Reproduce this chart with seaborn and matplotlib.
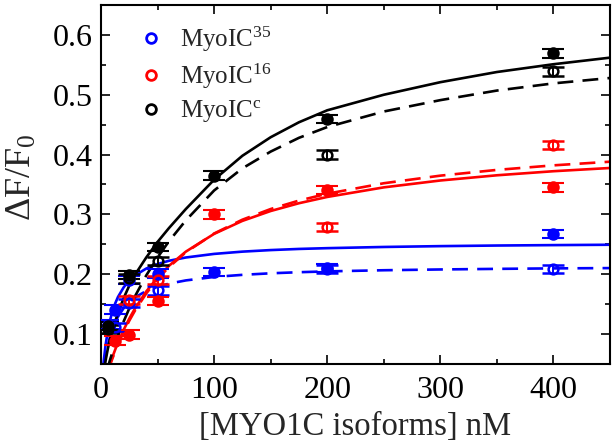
import numpy as np
import pandas as pd
import matplotlib
matplotlib.use("Agg")
import matplotlib.pyplot as plt
from matplotlib.lines import Line2D
from matplotlib.ticker import MultipleLocator
from matplotlib import font_manager
import seaborn as sns

nan = np.nan

# ---------------- data ----------------
conc = [6.25, 12.5, 25, 50, 100, 200, 400]

myo35_filled = [0.116, 0.141, 0.190, 0.201, 0.204, 0.210, 0.267]
myo35_open = [nan, 0.112, 0.152, 0.173, nan, 0.209, 0.209]
myo16_filled = [nan, 0.089, 0.099, 0.155, 0.300, 0.341, 0.345]
myo16_open = [nan, nan, 0.157, 0.190, nan, 0.279, 0.416]
myoc_filled = [0.113, nan, 0.199, 0.246, 0.365, 0.459, 0.569]
myoc_open = [0.108, nan, 0.193, 0.222, nan, 0.400, 0.539]
err = [0.007, 0.007, 0.007, 0.007, 0.007, 0.007, 0.007]

# fitted curves
fit_x = [0, 2, 4, 6, 8, 10, 12.5, 15, 20, 25, 30, 40, 50, 60, 75, 100,
         125, 150, 175, 200, 250, 300, 350, 400, 450]
fit35_solid = [0.0, 0.048, 0.081, 0.105, 0.123, 0.137, 0.151, 0.162, 0.178,
               0.190, 0.198, 0.2095, 0.217, 0.2225, 0.228, 0.234, 0.2378,
               0.2404, 0.2423, 0.2436, 0.2456, 0.247, 0.248, 0.2487, 0.2493]
fit35_dash = [0.0, 0.036, 0.0614, 0.0806, 0.0956, 0.1075, 0.1194, 0.129,
              0.1433, 0.1536, 0.1613, 0.172, 0.179, 0.1843, 0.1897, 0.1955,
              0.199, 0.2016, 0.2034, 0.2048, 0.2067, 0.208, 0.209, 0.2098, 0.2103]
fit16_solid = [0.0, 0.0138, 0.0268, 0.0389, 0.0504, 0.0611, 0.0738, 0.0856,
               0.107, 0.1259, 0.1427, 0.1712, 0.1945, 0.214, 0.2378, 0.2675,
               0.2892, 0.3057, 0.3187, 0.3292, 0.3452, 0.3567, 0.3654, 0.3722, 0.3776]
fit16_dash = [0.0, 0.0131, 0.0254, 0.0371, 0.0481, 0.0586, 0.0709, 0.0824,
              0.1035, 0.1223, 0.1391, 0.1679, 0.1918, 0.2119, 0.2367, 0.2681,
              0.2912, 0.309, 0.3231, 0.3346, 0.3521, 0.3648, 0.3744, 0.382, 0.3881]
fitc_solid = [0.0, 0.030, 0.055, 0.075, 0.092, 0.106, 0.121, 0.135, 0.160,
              0.181, 0.199, 0.228, 0.254, 0.277, 0.309, 0.358, 0.398, 0.429,
              0.454, 0.474, 0.500, 0.521, 0.538, 0.551, 0.562]
fitc_dash = [0.0, 0.016, 0.030, 0.044, 0.057, 0.069, 0.083, 0.097, 0.121,
             0.143, 0.163, 0.198, 0.228, 0.255, 0.290, 0.340, 0.377, 0.405,
             0.428, 0.446, 0.472, 0.491, 0.507, 0.519, 0.528]

series_names = ["MyoIC$^{35}$", "MyoIC$^{16}$", "MyoIC$^{\\mathrm{c}}$"]
colors = ["#0000FF", "#FF0000", "#000000"]

# ---------------- style ----------------
sns.set_style("ticks")
# make sure the Times-like font really exists (raises otherwise)
font_manager.findfont(font_manager.FontProperties(family="Liberation Serif"),
                      fallback_to_default=False)
plt.rcParams.update({
    "font.family": ["Liberation Serif", "DejaVu Serif"],
    "mathtext.fontset": "custom",
    "mathtext.rm": "Liberation Serif",
    "mathtext.it": "Liberation Serif:italic",
    "mathtext.bf": "Liberation Serif:bold",
    "axes.linewidth": 1.5,
})

fig = plt.figure(figsize=(6.12, 4.47), dpi=100)
ax = fig.add_axes([101 / 612, (447 - 364) / 447, 509 / 612, 359 / 447])

# curves
rows = []
fits = [(fit35_solid, fit35_dash), (fit16_solid, fit16_dash), (fitc_solid, fitc_dash)]
for name, (fs, fd) in zip(series_names, fits):
    for xv, yv in zip(fit_x, fs):
        rows.append({"x": xv, "y": yv, "series": name, "kind": "filled"})
    for xv, yv in zip(fit_x, fd):
        rows.append({"x": xv, "y": yv, "series": name, "kind": "open"})
df_fit = pd.DataFrame(rows)

sns.lineplot(data=df_fit, x="x", y="y", hue="series", style="kind",
             palette=dict(zip(series_names, colors)),
             dashes={"filled": "", "open": (6, 3.5)},
             estimator=None, sort=False, legend=False, lw=1.9, ax=ax, zorder=2)

# points with error bars
pts = [(myo35_filled, myo35_open), (myo16_filled, myo16_open), (myoc_filled, myoc_open)]
for (pf, po), c in zip(pts, colors):
    ax.errorbar(conc, pf, yerr=err, fmt="o", color=c, mfc=c, mec=c, ms=7.5,
                mew=1.5, capsize=8, capthick=1.5, elinewidth=1.4, zorder=3)
    ax.errorbar(conc, po, yerr=err, fmt="o", color=c, mfc="none", mec=c, ms=7.0,
                mew=1.8, capsize=8, capthick=1.5, elinewidth=1.4, zorder=3)

ax.set_xlim(0, 450)
ax.set_ylim(0.05, 0.65)
ax.xaxis.set_minor_locator(MultipleLocator(50))
ax.yaxis.set_minor_locator(MultipleLocator(0.05))
ax.set_yticks([0.1, 0.2, 0.3, 0.4, 0.5, 0.6])
ax.set_yticklabels(["0.1", "0.2", "0.3", "0.4", "0.5", "0.6"])
ax.set_xticks([0, 100, 200, 300, 400])
ax.set_xticklabels(["0", "100", "200", "300", "400"])
ax.tick_params(which="both", direction="in", top=True, right=True,
               width=1.2, colors="black")
ax.tick_params(which="major", length=6.5, labelsize=23)
ax.tick_params(axis="y", which="major", pad=6)
ax.tick_params(axis="x", which="major", pad=9)
ax.tick_params(which="minor", length=3.6)
for s in ax.spines.values():
    s.set_visible(True)
    s.set_color("black")
    s.set_linewidth(1.5)

ax.set_xlabel("[MYO1C isoforms] nM", fontsize=23.5, labelpad=4)
ax.set_ylabel("ΔF/F$_0$", fontsize=26)
ax.yaxis.set_label_coords(-0.122, 0.52)

handles = [Line2D([], [], ls="none", marker="o", mfc="none", mec=c, ms=7, mew=2)
           for c in colors]
ax.legend(handles, series_names, loc="upper left", bbox_to_anchor=(0.074, 0.945),
          frameon=False, fontsize=18, handlelength=1.0, handletextpad=0.65,
          labelspacing=0.3, borderpad=0, borderaxespad=0)

fig.savefig("out.png", dpi=100)
